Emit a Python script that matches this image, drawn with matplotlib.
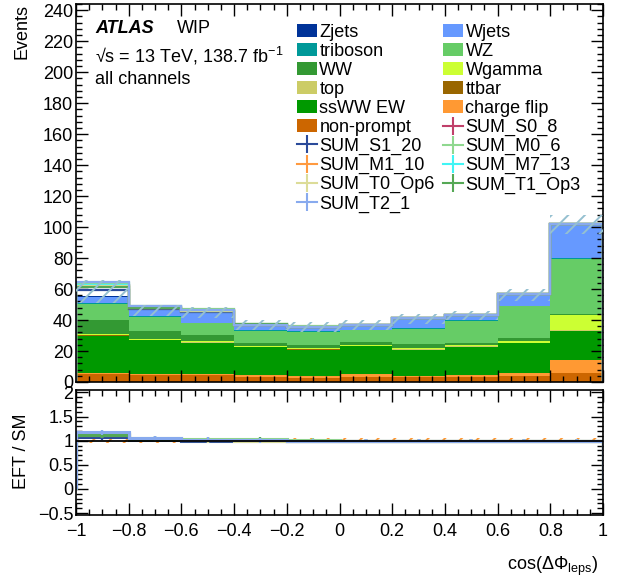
import numpy as np
import matplotlib

matplotlib.use("Agg")
import matplotlib.pyplot as plt
from matplotlib.lines import Line2D
from matplotlib.patches import Patch
from matplotlib.ticker import MultipleLocator, FuncFormatter

plt.rcParams["font.family"] = ["Liberation Sans", "DejaVu Sans"]
plt.rcParams["mathtext.fontset"] = "custom"
plt.rcParams["mathtext.rm"] = "Liberation Sans"
plt.rcParams["mathtext.it"] = "Liberation Sans:italic"
plt.rcParams["mathtext.bf"] = "Liberation Sans:bold"
plt.rcParams["hatch.linewidth"] = 1.4

# binning of cos(dPhi_leps)
bin_edges = [-1.0, -0.8, -0.6, -0.4, -0.2, 0.0, 0.2, 0.4, 0.6, 0.8, 1.0]

# SM backgrounds, stacked bottom -> top (events per bin)
non_prompt = [5.0, 4.8, 4.8, 3.0, 2.8, 3.4, 3.0, 3.4, 4.0, 6.0]
charge_flip = [0.6, 0.4, 0.5, 1.5, 1.1, 1.7, 0.9, 1.1, 1.6, 8.2]
ssww_ew = [24.4, 21.8, 19.9, 17.8, 16.9, 18.1, 16.7, 18.2, 19.3, 18.6]
ttbar = [0.2, 0.2, 0.2, 0.2, 0.2, 0.2, 0.2, 0.2, 0.3, 0.4]
top = [0.1, 0.2, 0.2, 0.2, 0.1, 0.1, 0.2, 0.1, 0.2, 0.3]
wgamma = [1.0, 0.4, 1.0, 0.4, 0.6, 0.6, 1.0, 0.8, 1.1, 9.6]
ww = [8.7, 5.0, 3.6, 2.2, 2.3, 1.6, 2.7, 1.1, 1.6, 1.1]
wz = [10.6, 9.2, 7.8, 7.7, 8.4, 7.8, 9.8, 14.5, 20.8, 35.4]
triboson = [0.3, 0.3, 0.3, 0.3, 0.3, 0.3, 0.3, 0.3, 0.4, 0.6]
wjets = [4.1, 4.0, 7.0, 3.0, 2.9, 2.7, 6.2, 3.3, 7.1, 21.3]
zjets = [0.2, 0.2, 0.2, 0.2, 0.2, 0.2, 0.2, 0.2, 0.2, 0.3]

# hatched SM uncertainty band (lower / upper edge)
band_lo = [51.0, 42.5, 41.0, 33.5, 32.4, 33.5, 37.5, 40.0, 52.0, 95.7]
band_hi = [65.6, 49.5, 48.4, 40.0, 38.8, 39.9, 44.0, 45.6, 60.3, 107.5]

# EFT / SM ratios
eft_names = ["SUM_S0_8", "SUM_S1_20", "SUM_M0_6", "SUM_M1_10", "SUM_M7_13",
             "SUM_T0_Op6", "SUM_T1_Op3", "SUM_T2_1"]
eft_colors = ["#c0406a", "#2a4a9a", "#8fd88f", "#ff9a40", "#40f5f5",
              "#dcdc98", "#55a855", "#88aaee"]
r_s0_8 = [1.14, 1.04, 1.01, 1.01, 1.00, 1.00, 1.00, 1.00, 1.00, 1.00]
r_s1_20 = [1.07, 1.02, 1.00, 1.00, 1.00, 1.00, 1.00, 1.00, 1.00, 1.00]
r_m0_6 = [1.16, 1.05, 1.035, 1.03, 1.01, 1.00, 1.00, 1.00, 1.00, 1.00]
r_m1_10 = [1.12, 1.03, 1.01, 1.01, 1.00, 1.00, 1.00, 1.00, 1.00, 1.00]
r_m7_13 = [1.13, 1.04, 1.01, 1.01, 1.00, 1.00, 1.00, 1.00, 1.00, 1.00]
r_t0_op6 = [1.12, 1.03, 1.01, 1.00, 1.00, 1.00, 1.00, 1.00, 1.00, 1.00]
r_t1_op3 = [1.11, 1.03, 1.02, 1.02, 1.00, 1.00, 1.00, 1.00, 1.00, 1.00]
r_t2_1 = [1.17, 1.05, 1.02, 1.01, 1.00, 1.00, 1.00, 1.00, 1.00, 1.00]
eft_ratios = [r_s0_8, r_s1_20, r_m0_6, r_m1_10, r_m7_13, r_t0_op6, r_t1_op3, r_t2_1]
eft_err = [0.06, 0.05, 0.05, 0.05, 0.04, 0.04, 0.04, 0.04, 0.04, 0.03]
sm_ratio_unc = [0.05, 0.05, 0.05, 0.05, 0.05, 0.05, 0.05, 0.05, 0.05, 0.05]

stack = [
    ("non-prompt", non_prompt, "#cc6600"),
    ("charge flip", charge_flip, "#ff9933"),
    ("ssWW EW", ssww_ew, "#009900"),
    ("ttbar", ttbar, "#996600"),
    ("top", top, "#cccc66"),
    ("Wgamma", wgamma, "#ccff33"),
    ("WW", ww, "#339933"),
    ("WZ", wz, "#66cc66"),
    ("triboson", triboson, "#009999"),
    ("Wjets", wjets, "#6699ff"),
    ("Zjets", zjets, "#003399"),
]

edges = np.array(bin_edges)
left = edges[:-1]
width = np.diff(edges)
centers = left + width / 2

fig = plt.figure(figsize=(6.27, 5.8), dpi=100)
ax1 = fig.add_axes([76 / 627, (580 - 382) / 580, 527 / 627, 378 / 580])
ax2 = fig.add_axes([76 / 627, (580 - 515) / 580, 527 / 627, 125 / 580])

# stacked histogram
bottom = np.zeros(len(left))
handles = {}
for name, vals, col in stack:
    ax1.bar(left, vals, width=width, bottom=bottom, align="edge",
            color=col, linewidth=0, zorder=1)
    bottom = bottom + np.array(vals)
    handles[name] = Patch(facecolor=col, edgecolor="none")
sm_total = bottom

# EFT predictions on top of the stack
for name, rat, col in zip(eft_names, eft_ratios, eft_colors):
    ax1.stairs(sm_total * np.array(rat), edges, color=col, linewidth=1.6, zorder=2)
    handles[name] = Line2D([], [], color=col, lw=1.5, marker="|",
                           markersize=13, mew=1.5)

ax1.fill_between(edges, np.r_[band_lo, band_lo[-1]], np.r_[band_hi, band_hi[-1]],
                 step="post", facecolor="none", edgecolor="#95c0d0",
                 hatch="//", linewidth=0, zorder=3)

ax1.set_xlim(-1, 1)
ax1.set_ylim(0, 244)

# ratio panel
ax2.fill_between(edges, 1 - np.r_[sm_ratio_unc, sm_ratio_unc[-1]],
                 1 + np.r_[sm_ratio_unc, sm_ratio_unc[-1]], step="post",
                 facecolor="none", edgecolor="#ff9933", hatch="//",
                 linewidth=0, zorder=1)
for rat, col in zip(eft_ratios, eft_colors):
    ax2.stairs(rat, edges, color=col, linewidth=2.2, zorder=2)
    ax2.errorbar(centers, rat, yerr=eft_err, fmt="none", ecolor=col,
                 elinewidth=1.6, zorder=2)
ax2.axhline(1.0, color="black", linewidth=1.3, zorder=3)
ax2.set_xlim(-1, 1)
ax2.set_ylim(-0.54, 2.05)

fmt = FuncFormatter(lambda v, p: f"{round(v, 6) + 0:g}".replace("-", "\u2212"))
for ax in (ax1, ax2):
    ax.xaxis.set_major_locator(MultipleLocator(0.2))
    ax.xaxis.set_minor_locator(MultipleLocator(0.05))
    ax.tick_params(which="both", direction="in", top=True, right=True,
                   width=1.0, labelsize=13)
    ax.tick_params(which="major", length=8.5)
    ax.tick_params(which="minor", length=4.3)
    ax.tick_params(axis="y", pad=2)
    ax.tick_params(axis="x", pad=6)
    for sp in ax.spines.values():
        sp.set_linewidth(1.2)
ax1.yaxis.set_major_locator(MultipleLocator(20))
ax1.yaxis.set_minor_locator(MultipleLocator(4))
ax1.tick_params(labelbottom=False)
ax2.yaxis.set_major_locator(MultipleLocator(0.5))
ax2.yaxis.set_minor_locator(MultipleLocator(0.1))
ax2.xaxis.set_major_formatter(fmt)
ax2.yaxis.set_major_formatter(fmt)

# labels
fig.text(22 / 627, 1 - 4 / 580, "Events", rotation=90, ha="center", va="top",
         fontsize=13)
fig.text(22 / 627, 1 - 451 / 580, "EFT / SM", rotation=90, ha="center",
         va="center", fontsize=13)
fig.text(598 / 627, 1 - 566 / 580, r"cos($\Delta\Phi_{\mathrm{leps}}$)",
         ha="right", va="center", fontsize=13)

ax1.text(0.036, 0.935, "ATLAS", transform=ax1.transAxes, fontsize=13,
         fontweight="bold", fontstyle="italic", va="center")
ax1.text(0.192, 0.935, "WIP", transform=ax1.transAxes, fontsize=13, va="center")
ax1.text(0.036, 0.862, "\u221as = 13 TeV, 138.7 fb$^{-1}$", transform=ax1.transAxes,
         fontsize=13, va="center")
ax1.text(0.036, 0.800, "all channels", transform=ax1.transAxes, fontsize=13,
         va="center")

# legend, filled row-wise like ROOT: reorder to column-major
order = ["Zjets", "Wjets", "triboson", "WZ", "WW", "Wgamma", "top", "ttbar",
         "ssWW EW", "charge flip", "non-prompt", "SUM_S0_8", "SUM_S1_20",
         "SUM_M0_6", "SUM_M1_10", "SUM_M7_13", "SUM_T0_Op6", "SUM_T1_Op3",
         "SUM_T2_1"]
col_major = order[0::2] + order[1::2]
ax1.legend([handles[n] for n in col_major], col_major, ncol=2,
           loc="upper left", bbox_to_anchor=(0.419, 0.947), frameon=False,
           fontsize=13, borderpad=0, borderaxespad=0, labelspacing=0.11,
           handlelength=1.1, handleheight=0.75, handletextpad=0.15,
           columnspacing=0.45)

fig.savefig("out.png", dpi=100)
